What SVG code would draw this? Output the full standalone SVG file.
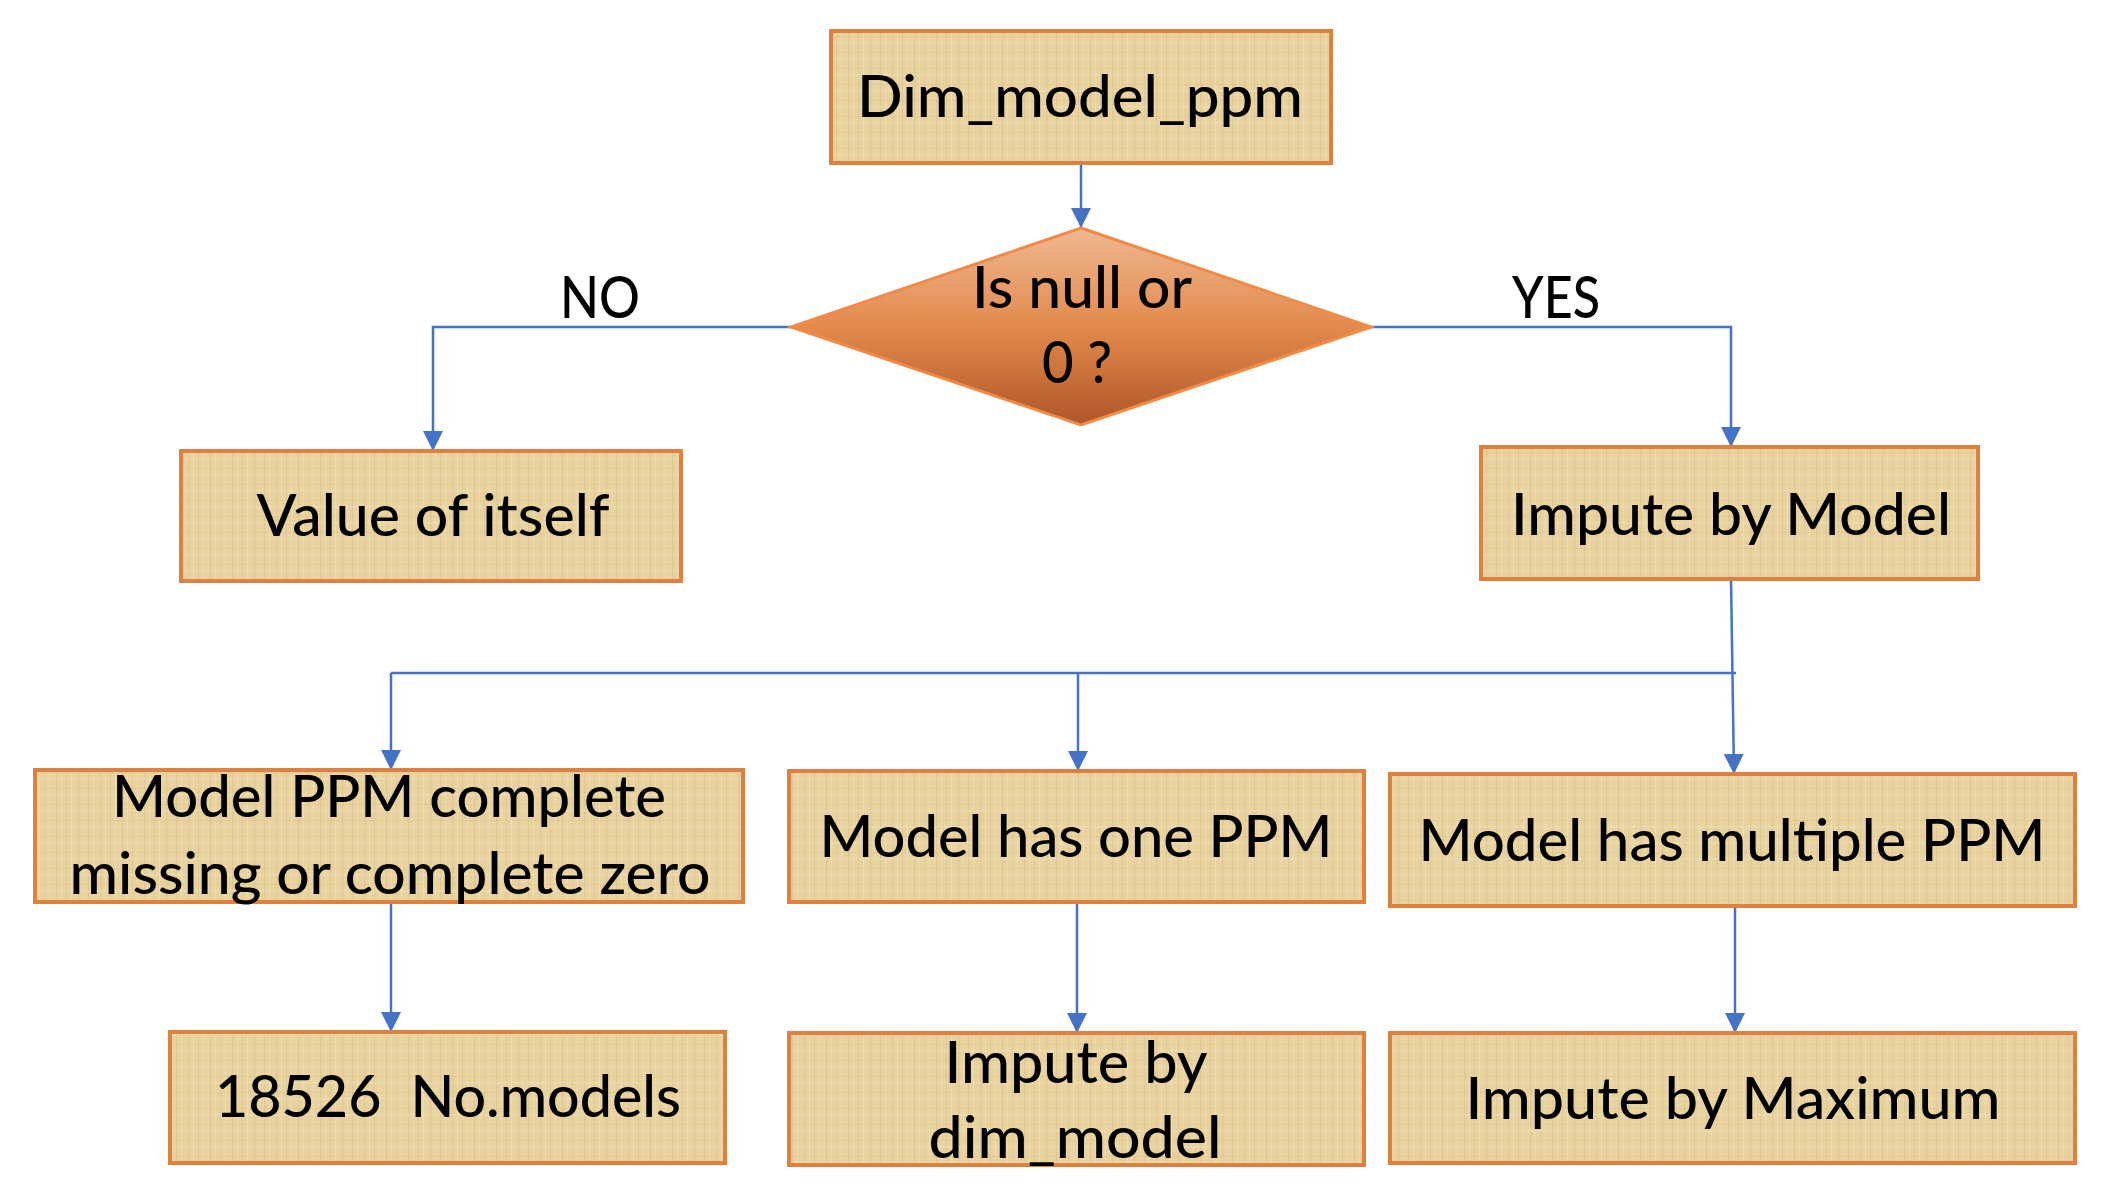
<svg xmlns="http://www.w3.org/2000/svg" width="2110" height="1202" viewBox="0 0 2110 1202">
<defs>
<pattern id="papyrus" patternUnits="userSpaceOnUse" width="22" height="16">
<rect width="22" height="16" fill="#E8D3A0"/>
<rect x="0" y="0" width="1" height="16" fill="#D7BD86" opacity="0.5"/>
<rect x="5" y="0" width="1" height="16" fill="#F3E5C0" opacity="0.55"/>
<rect x="12" y="0" width="1.5" height="16" fill="#D3B87F" opacity="0.35"/>
<rect x="17" y="0" width="1" height="16" fill="#F2E2BA" opacity="0.45"/>
<rect x="0" y="4" width="22" height="1" fill="#D6BB83" opacity="0.4"/>
<rect x="0" y="10" width="22" height="1.5" fill="#F3E4BE" opacity="0.45"/>
</pattern>
<linearGradient id="diaGrad" x1="0" y1="0" x2="0" y2="1">
<stop offset="0" stop-color="#EEB892"/>
<stop offset="0.5" stop-color="#E38A4C"/>
<stop offset="1" stop-color="#AE5727"/>
</linearGradient>
<marker id="arrow" markerUnits="userSpaceOnUse" markerWidth="20" markerHeight="20" viewBox="0 0 20 20" refX="20" refY="10" orient="auto">
<path d="M0,0 L20,10 L0,20 Z" fill="#4472C4"/>
</marker>
</defs>
<style>
.box{fill:url(#papyrus);stroke:#E0803F;stroke-width:4}
.dia{fill:url(#diaGrad);stroke:#F08A46;stroke-width:3}
.t{font-family:Lato,"Open Sans","Liberation Sans",sans-serif;font-size:57px;font-weight:500;fill:#000;text-anchor:middle}
.c{fill:none;stroke:#4472C4;stroke-width:2.5}
.ca{fill:none;stroke:#4472C4;stroke-width:2.5;marker-end:url(#arrow)}
</style>
<rect width="2110" height="1202" fill="#FFFFFF"/>

<g id="connectors">
<line class="ca" x1="1081" y1="163" x2="1081" y2="228"/>
<polyline class="ca" points="791,327 433,327 433,451"/>
<polyline class="ca" points="1371,327 1731,327 1731,447"/>
<line class="c" x1="391" y1="673" x2="1736" y2="673"/>
<line class="ca" x1="1731" y1="579" x2="1734" y2="774"/>
<line class="ca" x1="391" y1="673" x2="391" y2="770"/>
<line class="ca" x1="1078" y1="673" x2="1078" y2="771"/>
<line class="ca" x1="391" y1="902" x2="391" y2="1032"/>
<line class="ca" x1="1077" y1="902" x2="1077" y2="1033"/>
<line class="ca" x1="1735" y1="906" x2="1735" y2="1033"/>
</g>

<g id="labels">
<text class="t" x="600" y="318" textLength="80" lengthAdjust="spacingAndGlyphs">NO</text>
<text class="t" x="1556" y="318" textLength="88" lengthAdjust="spacingAndGlyphs">YES</text>
</g>

<g id="node-dim-model-ppm">
<rect class="box" x="831" y="31" width="500" height="132"/>
<text class="t" x="1080" y="117" textLength="446" lengthAdjust="spacingAndGlyphs">Dim_model_ppm</text>
</g>

<g id="node-decision">
<polygon class="dia" points="1081,228 1371,327 1081,425 791,327"/>
<text class="t" x="1082" y="308" textLength="220" lengthAdjust="spacingAndGlyphs">Is null or</text>
<text class="t" x="1077" y="383" textLength="70" lengthAdjust="spacingAndGlyphs">0 ?</text>
</g>

<g id="node-value-of-itself">
<rect class="box" x="181" y="451" width="500" height="130"/>
<text class="t" x="433" y="536" textLength="353" lengthAdjust="spacingAndGlyphs">Value of itself</text>
</g>

<g id="node-impute-by-model">
<rect class="box" x="1481" y="447" width="497" height="132"/>
<text class="t" x="1731" y="535" textLength="440" lengthAdjust="spacingAndGlyphs">Impute by Model</text>
</g>

<g id="node-complete-missing">
<rect class="box" x="35" y="770" width="708" height="132"/>
<text class="t" x="389" y="817" textLength="554" lengthAdjust="spacingAndGlyphs">Model PPM complete</text>
<text class="t" x="390" y="894" textLength="641" lengthAdjust="spacingAndGlyphs">missing or complete zero</text>
</g>

<g id="node-one-ppm">
<rect class="box" x="789" y="771" width="575" height="131"/>
<text class="t" x="1076" y="857" textLength="513" lengthAdjust="spacingAndGlyphs">Model has one PPM</text>
</g>

<g id="node-multiple-ppm">
<rect class="box" x="1390" y="774" width="685" height="132"/>
<text class="t" x="1732" y="861" textLength="627" lengthAdjust="spacingAndGlyphs">Model has multiple PPM</text>
</g>

<g id="node-no-models">
<rect class="box" x="170" y="1032" width="555" height="131"/>
<text class="t" x="448" y="1117" textLength="466" lengthAdjust="spacingAndGlyphs" xml:space="preserve">18526  No.models</text>
</g>

<g id="node-impute-dim-model">
<rect class="box" x="789" y="1033" width="575" height="132"/>
<text class="t" x="1076" y="1083" textLength="263" lengthAdjust="spacingAndGlyphs">Impute by</text>
<text class="t" x="1075" y="1158" textLength="293" lengthAdjust="spacingAndGlyphs">dim_model</text>
</g>

<g id="node-impute-maximum">
<rect class="box" x="1390" y="1033" width="685" height="130"/>
<text class="t" x="1733" y="1119" textLength="535" lengthAdjust="spacingAndGlyphs">Impute by Maximum</text>
</g>
</svg>
